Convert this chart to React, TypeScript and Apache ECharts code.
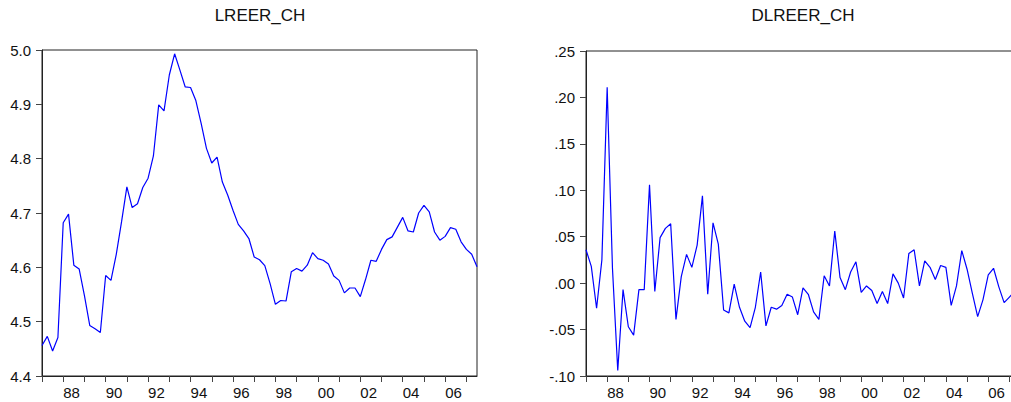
import React, { useEffect, useRef } from "react";
import * as echarts from "echarts";

const START_YEAR = 1987;

const lreer: number[] = [
  4.456, 4.473, 4.446, 4.471, 4.682, 4.698, 4.604, 4.597, 4.548, 4.493,
  4.487, 4.480, 4.585, 4.576, 4.624, 4.684, 4.748, 4.710, 4.717, 4.747,
  4.764, 4.805, 4.899, 4.888, 4.954, 4.993, 4.963, 4.932, 4.931, 4.907,
  4.865, 4.819, 4.792, 4.803, 4.757, 4.733, 4.705, 4.679, 4.667, 4.653,
  4.619, 4.614, 4.603, 4.570, 4.532, 4.539, 4.538, 4.592, 4.598, 4.593,
  4.604, 4.627, 4.616, 4.613, 4.606, 4.584, 4.576, 4.553, 4.562, 4.562,
  4.546, 4.578, 4.613, 4.611, 4.633, 4.651, 4.656, 4.674, 4.692, 4.667,
  4.665, 4.700, 4.714, 4.702, 4.665, 4.650, 4.657, 4.673, 4.670, 4.647,
  4.633, 4.624, 4.601,
];

const dlreer: number[] = [
  0.036, 0.018, -0.027, 0.025, 0.211, 0.016, -0.094, -0.007, -0.047, -0.056,
  -0.007, -0.007, 0.106, -0.009, 0.049, 0.059, 0.064, -0.039, 0.007, 0.031,
  0.017, 0.041, 0.094, -0.012, 0.065, 0.042, -0.029, -0.032, -0.001, -0.026,
  -0.041, -0.048, -0.026, 0.012, -0.046, -0.026, -0.028, -0.024, -0.012, -0.015,
  -0.034, -0.005, -0.012, -0.031, -0.039, 0.008, -0.003, 0.056, 0.006, -0.007,
  0.012, 0.023, -0.010, -0.003, -0.008, -0.022, -0.009, -0.022, 0.010, 0.000,
  -0.016, 0.032, 0.036, -0.003, 0.024, 0.017, 0.004, 0.019, 0.017, -0.024,
  -0.003, 0.035, 0.015, -0.011, -0.036, -0.018, 0.009, 0.016, -0.004, -0.021,
  -0.015, -0.009, -0.023,
];

const quarters: string[] = lreer.map(
  (_, i) => `${START_YEAR + Math.floor(i / 4)}Q${(i % 4) + 1}`
);

const titles = ["LREER_CH", "DLREER_CH"];

const FONT = "'Liberation Sans', Arial, sans-serif";
const AXIS_COLOR = "#222";

export default function App() {
  const ref = useRef<HTMLDivElement>(null);

  useEffect(() => {
    if (!ref.current) return;
    const chart = echarts.init(ref.current, undefined, { renderer: "svg" });

    const xAxisBase = (gridIndex: number) => ({
      type: "category" as const,
      gridIndex,
      data: quarters,
      boundaryGap: false,
      axisLine: { show: true, onZero: false, lineStyle: { color: AXIS_COLOR, width: 1 } },
      axisTick: {
        show: true,
        inside: false,
        length: 6,
        interval: (index: number) => index % 4 === 0,
        lineStyle: { color: "#444" },
      },
      axisLabel: {
        show: true,
        interval: (index: number) => index % 8 === 4,
        formatter: (v: string) => v.slice(2, 4),
        align: "left" as const,
        margin: 9,
        color: "#111",
        fontSize: 15,
        fontFamily: FONT,
      },
      splitLine: { show: false },
    });

    const yAxisBase = (gridIndex: number) => ({
      type: "value" as const,
      gridIndex,
      axisLine: { show: true, onZero: false, lineStyle: { color: AXIS_COLOR, width: 1 } },
      axisTick: { show: true, inside: false, length: 6, lineStyle: { color: "#444" } },
      splitLine: { show: false },
    });

    chart.setOption({
      animation: false,
      backgroundColor: "#fff",
      graphic: [
        {
          type: "text",
          x: 260,
          y: 7,
          style: {
            text: titles[0],
            fontSize: 17,
            fontFamily: FONT,
            fill: "#111",
            textAlign: "center",
            textVerticalAlign: "top",
          },
        },
        {
          type: "text",
          x: 803,
          y: 7,
          style: {
            text: titles[1],
            fontSize: 17,
            fontFamily: FONT,
            fill: "#111",
            textAlign: "center",
            textVerticalAlign: "top",
          },
        },
      ],
      grid: [
        {
          left: 42,
          top: 50,
          width: 435,
          height: 326,
          show: true,
          borderColor: AXIS_COLOR,
          borderWidth: 1,
          backgroundColor: "transparent",
        },
        {
          left: 586,
          top: 51,
          width: 434,
          height: 325,
          show: true,
          borderColor: AXIS_COLOR,
          borderWidth: 1,
          backgroundColor: "transparent",
        },
      ],
      xAxis: [xAxisBase(0), xAxisBase(1)],
      yAxis: [
        {
          ...yAxisBase(0),
          min: 4.4,
          max: 5.0,
          interval: 0.1,
          axisLabel: {
            formatter: (v: number) => v.toFixed(1),
            margin: 11,
            color: "#111",
            fontSize: 15,
            fontFamily: FONT,
          },
        },
        {
          ...yAxisBase(1),
          min: -0.1,
          max: 0.25,
          interval: 0.05,
          axisLabel: {
            formatter: (v: number) => {
              const s = v.toFixed(2);
              return s.replace("0.", ".");
            },
            margin: 11,
            color: "#111",
            fontSize: 15,
            fontFamily: FONT,
          },
        },
      ],
      series: [
        {
          type: "line",
          xAxisIndex: 0,
          yAxisIndex: 0,
          data: lreer,
          showSymbol: false,
          symbol: "none",
          lineStyle: { color: "#0000ff", width: 1.2 },
        },
        {
          type: "line",
          xAxisIndex: 1,
          yAxisIndex: 1,
          data: dlreer,
          showSymbol: false,
          symbol: "none",
          lineStyle: { color: "#0000ff", width: 1.2 },
        },
      ],
    });

    return () => chart.dispose();
  }, []);

  return (
    <div
      style={{
        position: "fixed",
        left: 0,
        top: 0,
        width: 1011,
        height: 402,
        overflow: "hidden",
        background: "#fff",
      }}
    >
      <div ref={ref} style={{ width: 1030, height: 402 }} />
    </div>
  );
}
